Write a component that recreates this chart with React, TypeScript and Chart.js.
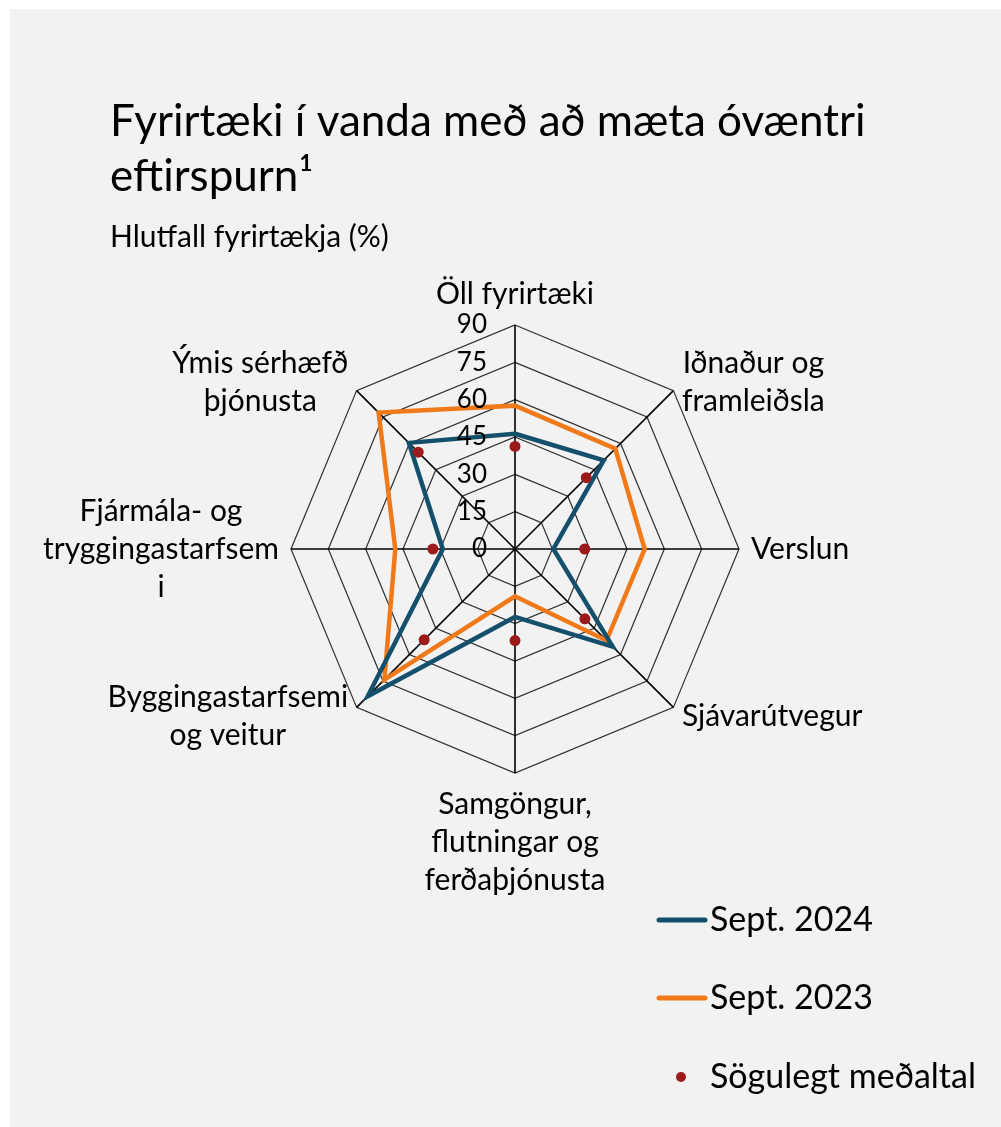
import React, { useEffect, useRef } from "react";
import { Chart, registerables } from "chart.js";

Chart.register(...registerables);

// ---------- data ----------
const categories: string[][] = [
  ["Öll fyrirtæki"],
  ["Iðnaður og", "framleiðsla"],
  ["Verslun"],
  ["Sjávarútvegur"],
  ["Samgöngur,", "flutningar og", "ferðaþjónusta"],
  ["Byggingastarfsemi", "og veitur"],
  ["Fjármála- og", "tryggingastarfsem", "i"],
  ["Ýmis sérhæfð", "þjónusta"],
];
const sept2024 = [46.3, 50.4, 15.4, 55.5, 27.3, 83.7, 29, 60.3];
const sept2023 = [57.6, 57, 52.1, 52, 19, 74.2, 48.1, 77.5];
const historicalAvg = [41.2, 40.5, 28, 39.7, 36.8, 51.6, 33, 55];
const tickValues = [0, 15, 30, 45, 60, 75, 90];
const titleLines = ["Fyrirtæki í vanda með að mæta óvæntri", "eftirspurn¹"];
const subtitleText = "Hlutfall fyrirtækja (%)";
const seriesNames = ["Sept. 2024", "Sept. 2023", "Sögulegt meðaltal"];

// ---------- styles ----------
const FONT = "Lato, 'Open Sans', sans-serif";
const BLUE = "#144f6c";
const ORANGE = "#f07a19";
const RED = "#9c1a1a";
const TEXT = "#000000";

const textPlugin = {
  id: "textOverlay",
  afterDraw(chart: any) {
    const ctx: CanvasRenderingContext2D = chart.ctx;
    const r = chart.scales.r;
    ctx.save();
    ctx.fillStyle = TEXT;

    // title + subtitle
    ctx.textAlign = "left";
    ctx.textBaseline = "alphabetic";
    ctx.font = `44px ${FONT}`;
    ctx.fillText(titleLines[0], 110, 136);
    ctx.fillText(titleLines[1], 110, 191);
    ctx.font = `30px ${FONT}`;
    ctx.fillText(subtitleText, 110, 247);

    // tick labels (left of the vertical axis)
    ctx.font = `26px ${FONT}`;
    ctx.textAlign = "right";
    ctx.textBaseline = "middle";
    tickValues.forEach((v) => {
      const d = r.getDistanceFromCenterForValue(v);
      ctx.fillText(String(v), r.xCenter - 28, r.yCenter - d);
    });

    // point labels
    ctx.font = `30px ${FONT}`;
    const lh = 38;
    const labels: string[][] = chart.data.labels;
    labels.forEach((lines, i) => {
      const p = r.getPointPosition(i, r.drawingArea + 12);
      const a = r.getIndexAngle(i);
      const sx = Math.sin(a);
      const cy = -Math.cos(a);
      const w = Math.max(...lines.map((l) => ctx.measureText(l).width));
      const h = lines.length * lh;
      let left: number;
      let top: number;
      if (Math.abs(sx) < 0.01) {
        left = p.x - w / 2;
        top = cy < 0 ? p.y - h : p.y;
      } else {
        left = sx > 0 ? p.x : p.x - w;
        top = p.y - h / 2;
      }
      ctx.textAlign = "center";
      ctx.textBaseline = "middle";
      lines.forEach((l, j) => ctx.fillText(l, left + w / 2, top + lh * j + lh / 2));
    });

    // legend (vertical, bottom right)
    const ds = chart.data.datasets;
    const lx = 657;
    const ys = [920, 998, 1077];
    ctx.font = `34px ${FONT}`;
    ctx.textAlign = "left";
    ctx.textBaseline = "middle";
    ds.forEach((d: any, i: number) => {
      const y = ys[i];
      if (d.showLine === false) {
        ctx.beginPath();
        ctx.fillStyle = d.pointBackgroundColor;
        ctx.arc(lx + 24, y, 5, 0, Math.PI * 2);
        ctx.fill();
      } else {
        ctx.beginPath();
        ctx.strokeStyle = d.borderColor;
        ctx.lineWidth = 5;
        ctx.lineCap = "round";
        ctx.moveTo(lx + 2, y);
        ctx.lineTo(lx + 48, y);
        ctx.stroke();
      }
      ctx.fillStyle = TEXT;
      ctx.fillText(d.label, lx + 53, y);
    });
    ctx.restore();
  },
};

export default function App() {
  const canvasRef = useRef<HTMLCanvasElement | null>(null);

  useEffect(() => {
    if (!canvasRef.current) return;
    const chart = new Chart(canvasRef.current, {
      type: "radar",
      data: {
        labels: categories as any,
        datasets: [
          {
            label: seriesNames[0],
            data: sept2024,
            borderColor: BLUE,
            backgroundColor: BLUE,
            borderWidth: 4.5,
            borderJoinStyle: "miter",
            pointRadius: 0,
            fill: false,
            order: 1,
          },
          {
            label: seriesNames[1],
            data: sept2023,
            borderColor: ORANGE,
            backgroundColor: ORANGE,
            borderWidth: 4.5,
            borderJoinStyle: "miter",
            pointRadius: 0,
            fill: false,
            order: 2,
          },
          {
            label: seriesNames[2],
            data: historicalAvg,
            showLine: false,
            borderColor: RED,
            backgroundColor: RED,
            pointBackgroundColor: RED,
            pointBorderWidth: 0,
            pointRadius: 5.5,
            fill: false,
            order: 0,
          } as any,
        ],
      },
      options: {
        responsive: false,
        animation: false,
        devicePixelRatio: 1,
        layout: { padding: { left: 291, right: 262, top: 325, bottom: 354 } },
        plugins: {
          legend: { display: false },
          title: { display: false },
          tooltip: { enabled: false },
        },
        scales: {
          r: {
            min: 0,
            max: 90,
            beginAtZero: true,
            ticks: { display: false, stepSize: 15 },
            pointLabels: { display: false },
            grid: { color: "#2e2e2e", lineWidth: 1.2 },
            angleLines: { color: "#000000", lineWidth: 1.6 },
          },
        },
      },
      plugins: [textPlugin],
    });
    return () => chart.destroy();
  }, []);

  return (
    <div
      style={{
        position: "absolute",
        left: 0,
        top: 0,
        width: 1001,
        height: 1127,
        background: "#ffffff",
        overflow: "hidden",
      }}
    >
      <div
        style={{
          position: "absolute",
          left: 10,
          top: 9,
          right: 0,
          bottom: 0,
          background: "#f2f2f2",
        }}
      />
      <canvas
        ref={canvasRef}
        width={1001}
        height={1127}
        style={{ position: "absolute", left: 0, top: 0, width: 1001, height: 1127 }}
      />
    </div>
  );
}
